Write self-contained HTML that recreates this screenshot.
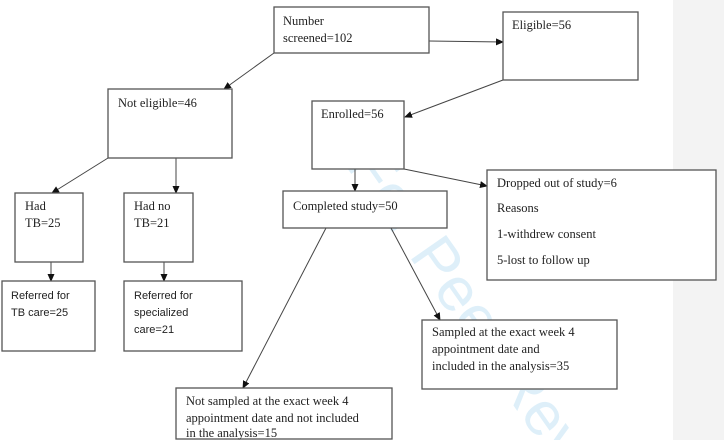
<!DOCTYPE html>
<html><head><meta charset="utf-8"><style>
html,body{margin:0;padding:0;background:#fff;width:724px;height:440px;overflow:hidden;}
svg{display:block;}
.s{font-family:"Liberation Serif",serif;font-size:12.5px;fill:#222;}
.a{font-family:"Liberation Sans",sans-serif;font-size:11px;fill:#222;}
rect.b{fill:#fff;stroke:#555;stroke-width:1.3;}
line{stroke:#444;stroke-width:1;}
</style></head><body>
<svg width="724" height="440" viewBox="0 0 724 440" xmlns="http://www.w3.org/2000/svg">
<defs><marker id="m" markerWidth="8" markerHeight="8" refX="7" refY="4" orient="auto" markerUnits="userSpaceOnUse"><path d="M0,0.5 L8,4 L0,7.5 z" fill="#111"/></marker></defs>
<rect x="673" y="0" width="51" height="440" fill="#f3f3f3"/>
<text x="345" y="165" transform="rotate(55 345 165)" font-family="Liberation Sans,sans-serif" font-size="62" fill="#d6ecf8" opacity="0.8">For Peer Review</text>
<line x1="274" y1="53" x2="224" y2="89" marker-end="url(#m)"/>
<line x1="429" y1="41" x2="503" y2="42" marker-end="url(#m)"/>
<line x1="503" y1="80" x2="405" y2="117" marker-end="url(#m)"/>
<line x1="108" y1="158" x2="52" y2="193" marker-end="url(#m)"/>
<line x1="176" y1="158" x2="176" y2="193" marker-end="url(#m)"/>
<line x1="355" y1="169" x2="355" y2="191" marker-end="url(#m)"/>
<line x1="404" y1="169" x2="487" y2="186" marker-end="url(#m)"/>
<line x1="51" y1="262" x2="51" y2="281" marker-end="url(#m)"/>
<line x1="164" y1="262" x2="164" y2="281" marker-end="url(#m)"/>
<line x1="326" y1="228" x2="243" y2="388" marker-end="url(#m)"/>
<line x1="391" y1="228" x2="440" y2="320" marker-end="url(#m)"/>
<rect class="b" x="274" y="7" width="155" height="46"/>
<text class="s" x="283" y="25">Number</text><text class="s" x="283" y="42">screened=102</text>
<rect class="b" x="503" y="12" width="135" height="68"/>
<text class="s" x="512" y="29">Eligible=56</text>
<rect class="b" x="108" y="89" width="124" height="69"/>
<text class="s" x="118" y="107">Not eligible=46</text>
<rect class="b" x="312" y="101" width="92" height="68"/>
<text class="s" x="321" y="118">Enrolled=56</text>
<rect class="b" x="15" y="193" width="68" height="69"/>
<text class="s" x="25" y="210">Had</text><text class="s" x="25" y="227">TB=25</text>
<rect class="b" x="124" y="193" width="69" height="69"/>
<text class="s" x="134" y="210">Had no</text><text class="s" x="134" y="227">TB=21</text>
<rect class="b" x="283" y="191" width="164" height="37"/>
<text class="s" x="293" y="210">Completed study=50</text>
<rect class="b" x="487" y="170" width="229" height="110"/>
<text class="s" x="497" y="187">Dropped out of study=6</text>
<text class="s" x="497" y="212">Reasons</text>
<text class="s" x="497" y="238">1-withdrew consent</text>
<text class="s" x="497" y="264">5-lost to follow up</text>
<rect class="b" x="2" y="281" width="93" height="70"/>
<text class="a" x="11" y="299">Referred for</text><text class="a" x="11" y="316">TB care=25</text>
<rect class="b" x="124" y="281" width="118" height="70"/>
<text class="a" x="134" y="299">Referred for</text><text class="a" x="134" y="316">specialized</text><text class="a" x="134" y="333">care=21</text>
<rect class="b" x="422" y="320" width="195" height="69"/>
<text class="s" x="432" y="336">Sampled at the exact week 4</text>
<text class="s" x="432" y="353">appointment date and</text>
<text class="s" x="432" y="370">included in the analysis=35</text>
<rect class="b" x="176" y="388" width="216" height="51"/>
<text class="s" x="186" y="405">Not sampled at the exact week 4</text>
<text class="s" x="186" y="422">appointment date and not included</text>
<text class="s" x="186" y="437">in the analysis=15</text>
</svg>
</body></html>
